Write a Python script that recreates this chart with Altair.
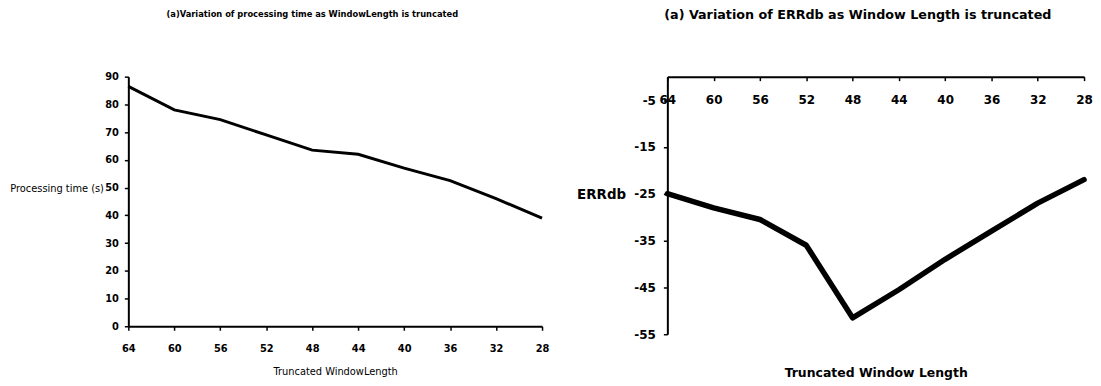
import altair as alt
import pandas as pd

window_lengths = [64, 60, 56, 52, 48, 44, 40, 36, 32, 28]
processing_time = [86.5, 78, 74.5, 69, 63.5, 62, 57, 52.5, 46, 39]
err_db = [-25, -28, -30.5, -36, -51.5, -45.5, -39, -33, -27, -22]

left_ticks = list(range(0, 91, 10))
right_ticks = [-5, -15, -25, -35, -45, -55]

df_left = pd.DataFrame({"length": window_lengths, "time": processing_time})
df_right = pd.DataFrame({"length": window_lengths, "err": err_db})

NARROW = "Liberation Sans Narrow, DejaVu Sans Condensed, Arial Narrow, sans-serif"
BOLD = "DejaVu Sans, Liberation Sans, sans-serif"

LW, LH = 416, 251
RW, RH = 419, 259

left = alt.Chart(df_left).mark_line(color="black", strokeWidth=3).encode(
    x=alt.X("length:Q",
            scale=alt.Scale(domain=[28, 64], reverse=True, nice=False, zero=False),
            axis=alt.Axis(values=window_lengths, title="Truncated WindowLength",
                          grid=False, labelFont=NARROW, labelFontSize=11, labelFontWeight="bold",
                          titleFont=NARROW, titleFontSize=11, titleFontWeight="normal",
                          labelPadding=12, titlePadding=13, labelFlush=False)),
    y=alt.Y("time:Q",
            scale=alt.Scale(domain=[0, 90], nice=False),
            axis=alt.Axis(values=left_ticks, title="Processing time (s)", grid=False,
                          titleAngle=0, titleAlign="right", titleBaseline="middle",
                          titleX=-25, titleY=112,
                          labelFont=NARROW, labelFontSize=11, labelFontWeight="bold",
                          titleFont=NARROW, titleFontSize=11, titleFontWeight="normal",
                          labelPadding=6)),
).properties(
    width=LW, height=LH,
    title=alt.TitleParams("(a)Variation of  processing time as WindowLength is truncated",
                          font=NARROW, fontSize=9.3, fontWeight="bold", anchor="middle",
                          frame="group", dx=-23, offset=52),
)

right = alt.Chart(df_right).mark_line(color="black", strokeWidth=5.5, strokeJoin="round", strokeCap="round").encode(
    x=alt.X("length:Q",
            scale=alt.Scale(domain=[28, 64], reverse=True, nice=False, zero=False),
            axis=alt.Axis(values=window_lengths, title="Truncated Window Length",
                          orient="bottom", offset=-RH, grid=False,
                          labelFont=BOLD, labelFontSize=12, labelFontWeight="bold",
                          titleFont=BOLD, titleFontSize=12.5, titleFontWeight="bold",
                          labelPadding=14, titleY=292, labelFlush=False)),
    y=alt.Y("err:Q",
            scale=alt.Scale(domain=[-55, 0], nice=False),
            axis=alt.Axis(values=right_ticks, title="ERRdb", grid=False,
                          labelExpr="'' + datum.value",
                          titleAngle=0, titleAlign="right", titleBaseline="middle",
                          titleX=-42, titleY=119,
                          labelFont=BOLD, labelFontSize=12, labelFontWeight="bold",
                          titleFont=BOLD, titleFontSize=13.5, titleFontWeight="bold",
                          labelPadding=8)),
).properties(
    width=RW, height=RH,
    title=alt.TitleParams("(a) Variation of  ERRdb as Window Length is truncated",
                          font=BOLD, fontSize=12.8, fontWeight="bold", anchor="middle",
                          frame="group", dx=-18, offset=54),
)

chart = alt.hconcat(left, right, spacing=126, bounds="flush").properties(
    padding={"left": 1, "top": 0, "right": 0, "bottom": 0},
).configure_view(stroke=None).configure_axis(
    domainColor="black", domainWidth=2, tickColor="black", tickWidth=1.5, tickSize=4,
    labelColor="black", titleColor="black",
).configure_title(color="black")

chart.save("out.html", embed_options={"renderer": "svg", "actions": False})
